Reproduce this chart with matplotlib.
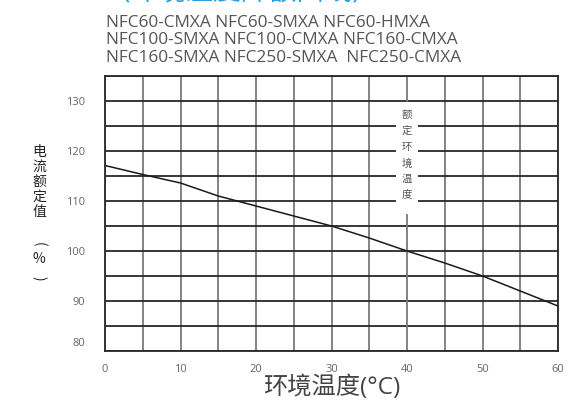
import numpy as np
import matplotlib
matplotlib.use('Agg')
import matplotlib.pyplot as plt
import matplotlib.transforms as mtransforms

plt.rcParams['font.family'] = ['Open Sans', 'Noto Sans CJK SC', 'DejaVu Sans']

# data
temps = [0, 5, 10, 15, 20, 25, 30, 35, 40, 45, 50, 55, 60]
rating = [117.1, 115.3, 113.6, 111.0, 109.0, 107.0, 105.0, 102.6, 100.0, 97.6, 95.0, 92.0, 89.0]
xticks = [0, 10, 20, 30, 40, 50, 60]
yticks = [80, 90, 100, 110, 120, 130]
models = ['NFC60-CMXA NFC60-SMXA NFC60-HMXA',
          'NFC100-SMXA NFC100-CMXA NFC160-CMXA',
          'NFC160-SMXA NFC250-SMXA  NFC250-CMXA']
heading = '（环境温度降额曲线）'
ref_temp = 40
ref_label = '额定环境温度'
ylabel_chars = ['电', '流', '额', '定', '值', '(', '%', ')']

W, H = 586, 407
fig = plt.figure(figsize=(W / 100, H / 100), dpi=100)
ax = fig.add_axes([105 / W, 56 / H, 453 / W, 275 / H])

# grid: vertical lines grey, horizontal lines dark
for x in np.arange(0, 61, 5):
    if x == ref_temp:
        continue
    ax.axvline(x, color='#7a7a7a', lw=1.3, zorder=1)
for y in np.arange(80, 136, 5):
    ax.axhline(y, color='#2b2626', lw=1.3, zorder=1)
# the reference-temperature line is broken where its label sits
ax.plot([ref_temp, ref_temp], [80, 107.3], color='#7a7a7a', lw=1.3, zorder=1)
ax.plot([ref_temp, ref_temp], [130, 135], color='#7a7a7a', lw=1.3, zorder=1)

ax.plot(temps, rating, color='#1a1a1a', lw=1.1, zorder=3)

ax.set_xlim(0, 60)
ax.set_ylim(80, 135)
ax.set_xticks(xticks)
ax.set_yticks(yticks)
ax.tick_params(length=0, labelsize=8, labelcolor='#666666')
ax.tick_params(axis='y', pad=14)
ax.tick_params(axis='x', pad=9)
for s in ax.spines.values():
    s.set_color('#2b2626')
    s.set_linewidth(1.3)

# the "80" label sits a bit above the bottom line
lab80 = ax.get_yticklabels()[0]
lab80.set_transform(lab80.get_transform() + mtransforms.ScaledTranslation(0, 9 / 100, fig.dpi_scale_trans))

ax.text(ref_temp, 119.2, '\n'.join(ref_label), ha='center', va='center',
        fontsize=7.5, color='#555555', linespacing=1.72, family=['Noto Sans CJK SC'],
        bbox=dict(facecolor='white', edgecolor='none', pad=4), zorder=4)

ax.set_xlabel('环境温度(°C)', fontsize=17.5, color='#444444', labelpad=1,
              family=['Open Sans', 'Noto Sans CJK SC'])

# vertical y label, one character per row, brackets turned sideways
ylab_rows = [151.5, 166.5, 181.5, 196.5, 212, 244, 259, 278]
for ch, yp in zip(ylabel_chars, ylab_rows):
    rot = -90 if ch in '()' else 0
    fig.text(39 / W, 1 - yp / H, ch, ha='center', va='center', rotation=rot,
             fontsize=10, color='#222222', family=['Noto Sans CJK SC', 'DejaVu Sans'])

for i, line in enumerate(models):
    fig.text(106 / W, 1 - (27 + 17.5 * i) / H, line, ha='left', va='baseline',
             fontsize=12.4, color='#555555')

# heading above the crop, only the bottom of its glyphs shows
fig.text(103 / W, 1 - 0.5 / H, heading, ha='left', va='baseline', fontsize=20,
         color='#2aa0e0', family=['Noto Sans CJK SC'])

fig.savefig('out.png', dpi=100)
